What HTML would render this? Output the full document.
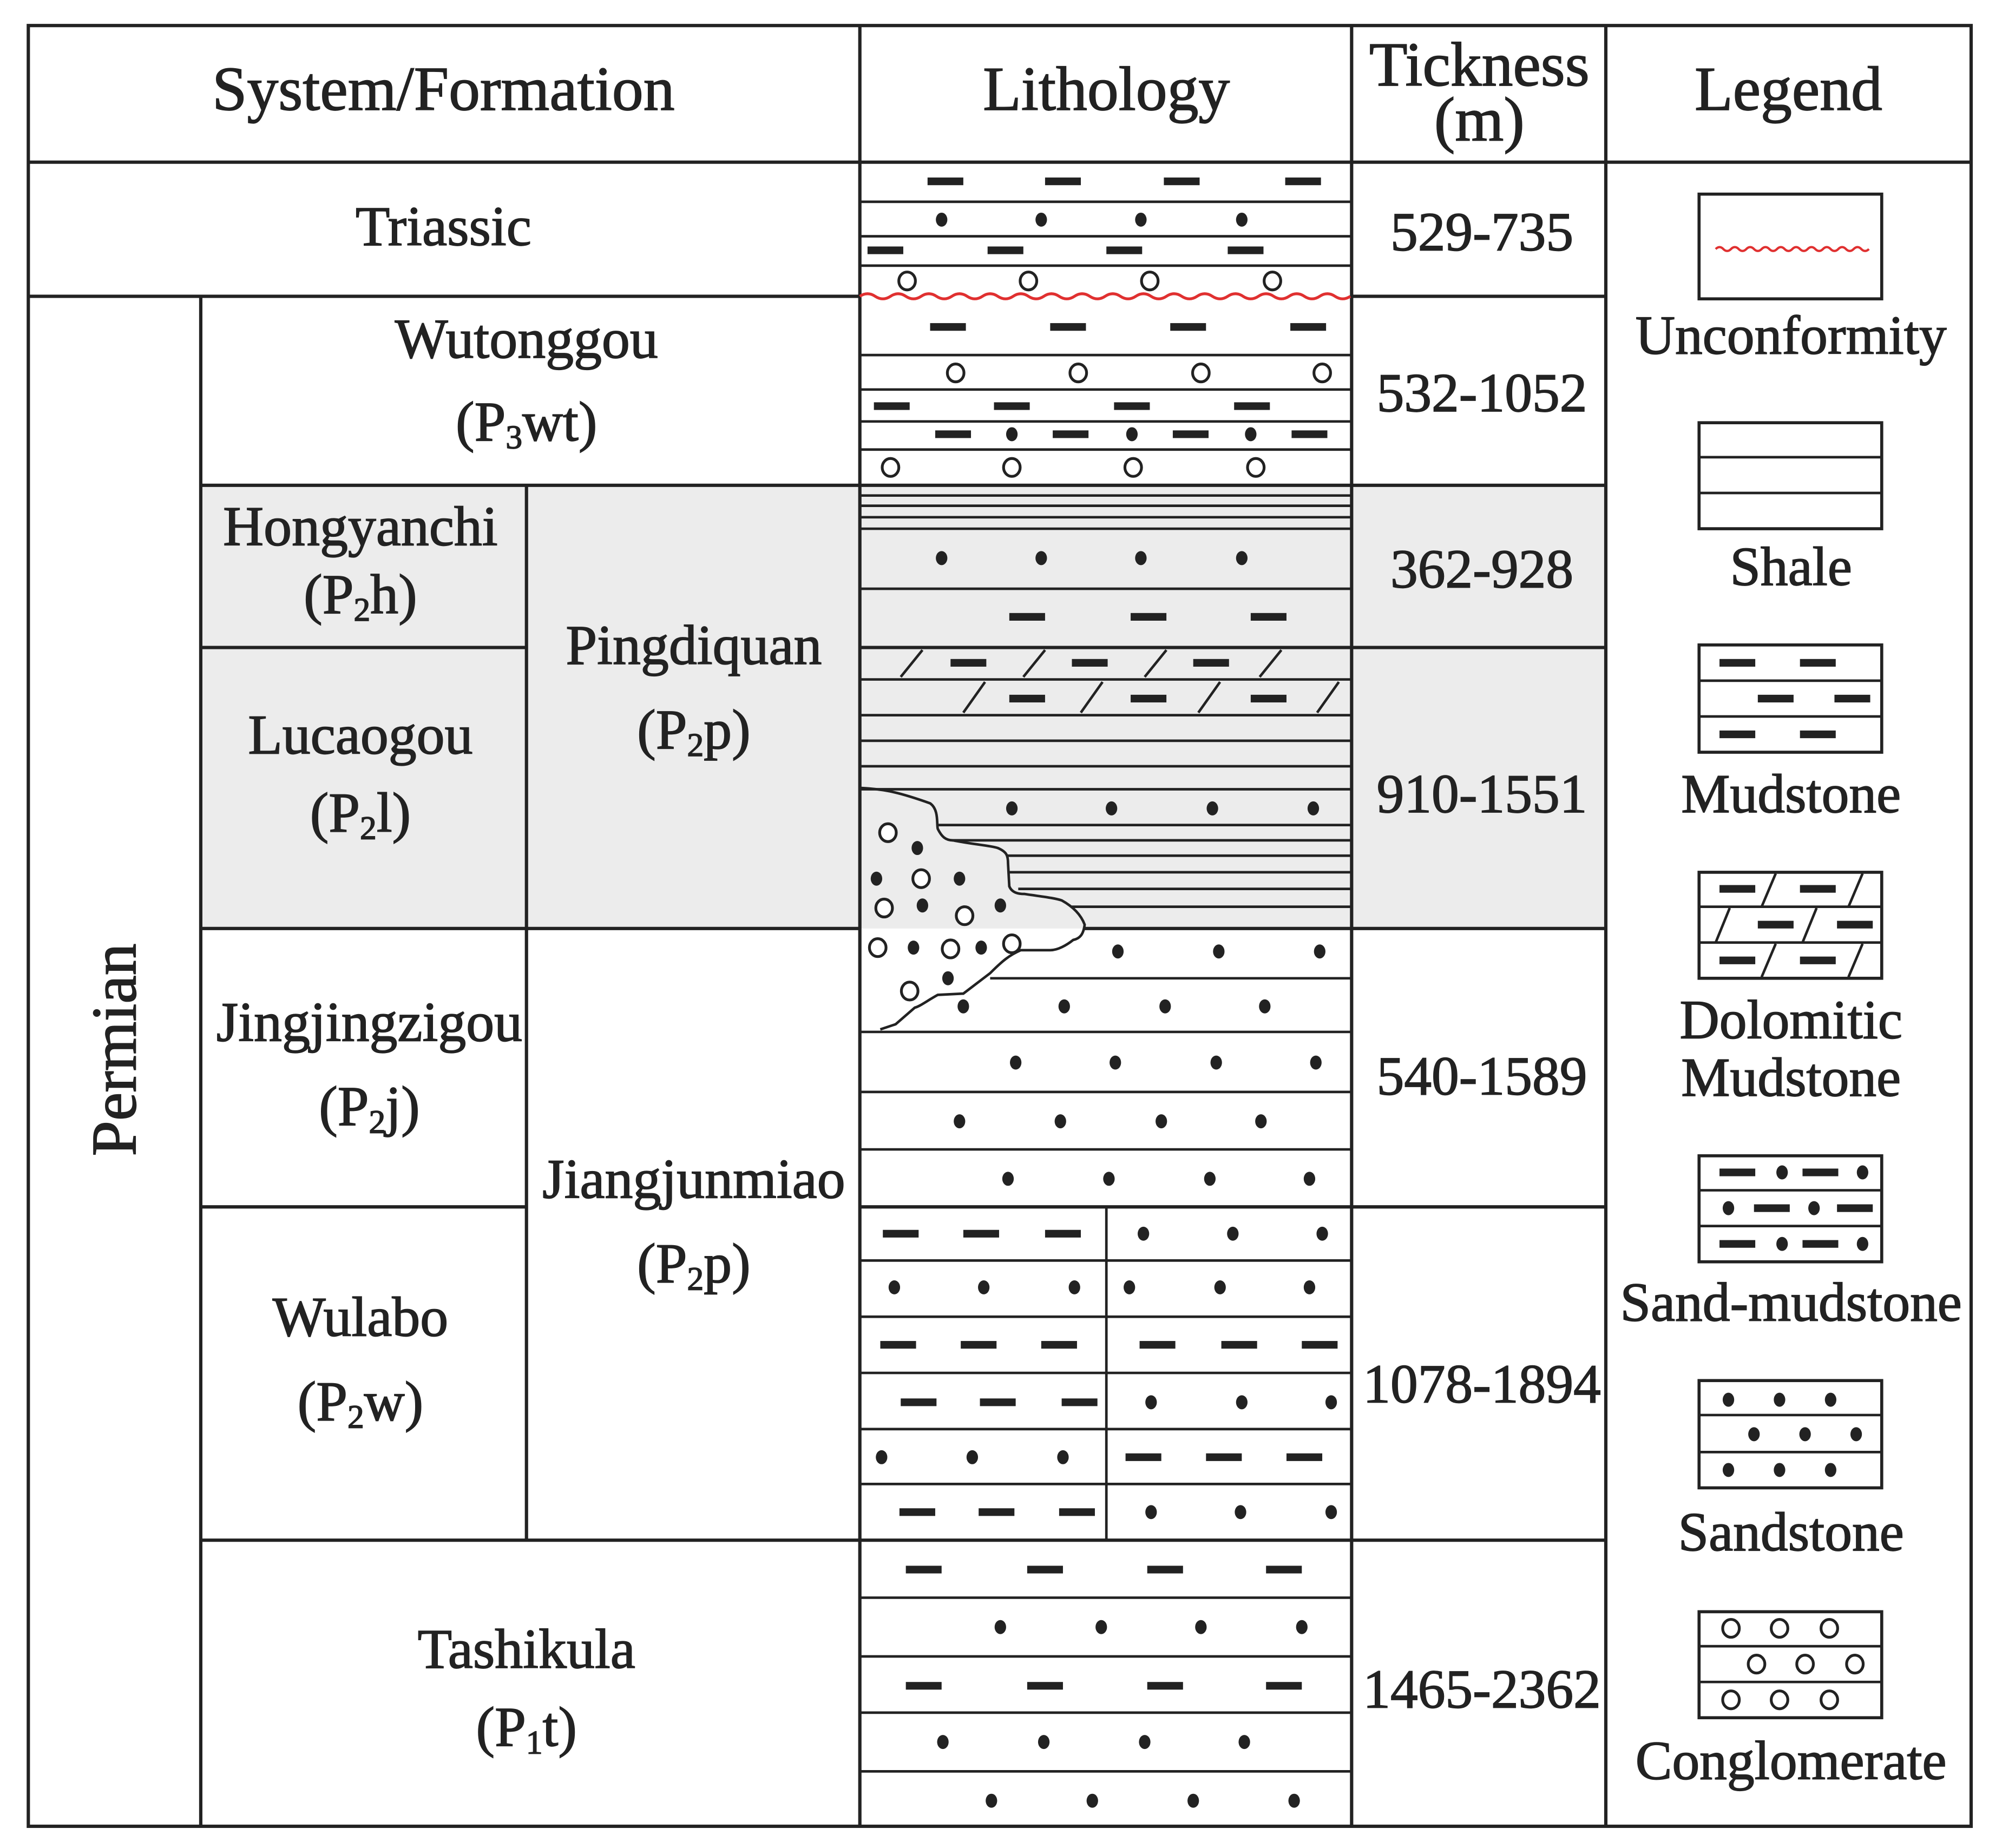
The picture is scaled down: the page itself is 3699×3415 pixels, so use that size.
<!DOCTYPE html>
<html><head><meta charset="utf-8"><style>
html,body{margin:0;padding:0;background:#fff}
svg{display:block}
text{font-family:"Liberation Serif",serif;fill:#222;stroke:#222;stroke-width:0.7}
</style></head><body>
<svg width="3699" height="3415" viewBox="0 0 1567 1447" xmlns="http://www.w3.org/2000/svg">
<defs>
<rect id="d" x="-14" y="-3" width="28" height="6" fill="#222"/>
<ellipse id="o" cx="0" cy="0" rx="4.5" ry="5.5" fill="#222"/>
<ellipse id="c" cx="0" cy="0" rx="6.5" ry="7" fill="#fff" stroke="#222" stroke-width="2.2"/>
</defs>
<rect x="0" y="0" width="1567" height="1447" fill="#fff"/>
<rect x="157" y="380" width="1100" height="347" fill="#ececec"/>

<g stroke="#222" stroke-width="2" fill="none">
<line x1="673" y1="158" x2="1058" y2="158"/><line x1="673" y1="185" x2="1058" y2="185"/><line x1="673" y1="208" x2="1058" y2="208"/>
<line x1="673" y1="278" x2="1058" y2="278"/><line x1="673" y1="305" x2="1058" y2="305"/><line x1="673" y1="330" x2="1058" y2="330"/><line x1="673" y1="352" x2="1058" y2="352"/>
<line x1="673" y1="388" x2="1058" y2="388"/><line x1="673" y1="396" x2="1058" y2="396"/><line x1="673" y1="405" x2="1058" y2="405"/><line x1="673" y1="414" x2="1058" y2="414"/><line x1="673" y1="461" x2="1058" y2="461"/>
<line x1="673" y1="532" x2="1058" y2="532"/><line x1="673" y1="560" x2="1058" y2="560"/><line x1="673" y1="580" x2="1058" y2="580"/><line x1="673" y1="600" x2="1058" y2="600"/><line x1="673" y1="618" x2="1058" y2="618"/>
<line x1="705" y1="530" x2="722" y2="509"/><line x1="801" y1="530" x2="818" y2="509"/><line x1="896" y1="530" x2="913" y2="509"/><line x1="986" y1="530" x2="1003" y2="509"/>
<line x1="754" y1="558" x2="771" y2="534"/><line x1="846" y1="558" x2="863" y2="534"/><line x1="938" y1="558" x2="955" y2="534"/><line x1="1031" y1="558" x2="1048" y2="534"/>
<line x1="734" y1="646" x2="1058" y2="646"/><line x1="745" y1="658" x2="1058" y2="658"/><line x1="788" y1="670" x2="1058" y2="670"/><line x1="790" y1="683" x2="1058" y2="683"/><line x1="797" y1="696" x2="1058" y2="696"/><line x1="838" y1="710" x2="1058" y2="710"/>
<line x1="775" y1="766" x2="1058" y2="766"/><line x1="673" y1="808" x2="1058" y2="808"/><line x1="673" y1="855" x2="1058" y2="855"/><line x1="673" y1="900" x2="1058" y2="900"/>
<line x1="866" y1="945" x2="866" y2="1206"/>
<line x1="673" y1="987" x2="1058" y2="987"/><line x1="673" y1="1031" x2="1058" y2="1031"/><line x1="673" y1="1075" x2="1058" y2="1075"/><line x1="673" y1="1119" x2="1058" y2="1119"/><line x1="673" y1="1162" x2="1058" y2="1162"/>
<line x1="673" y1="1251" x2="1058" y2="1251"/><line x1="673" y1="1297" x2="1058" y2="1297"/><line x1="673" y1="1341" x2="1058" y2="1341"/><line x1="673" y1="1387" x2="1058" y2="1387"/>
<path d="M674,617 C690,618 700,619 728,629 C735,634 733,645 734,649 C737,655 740,658 746,658 C760,661 775,662 781,664 C788,667 789,670 789,676 L790,694 C792,699 797,700 802,700 C815,702 825,703 831,705 C840,710 846,716 849,724 C848,732 845,735 840,736 C835,740 828,744 822,744 L799,744 C790,748 785,752 775,762 L754,778 L734,779 C725,784 720,788 716,789 L701,802 L689,806"/>
</g>

<g stroke="#222" stroke-width="2.6" fill="none">
<rect x="22" y="20" width="1521" height="1410"/>
<line x1="22" y1="127" x2="1543" y2="127"/>
<line x1="673" y1="20" x2="673" y2="1430"/><line x1="1058" y1="20" x2="1058" y2="1430"/><line x1="1257" y1="20" x2="1257" y2="1430"/>
<line x1="22" y1="232" x2="673" y2="232"/><line x1="1058" y1="232" x2="1257" y2="232"/>
<line x1="157" y1="232" x2="157" y2="1430"/>
<line x1="157" y1="380" x2="1257" y2="380"/>
<line x1="412" y1="380" x2="412" y2="1206"/>
<line x1="157" y1="507" x2="412" y2="507"/><line x1="673" y1="507" x2="1257" y2="507"/>
<line x1="157" y1="727" x2="673" y2="727"/><line x1="848" y1="727" x2="1257" y2="727"/>
<line x1="157" y1="945" x2="412" y2="945"/><line x1="673" y1="945" x2="1257" y2="945"/>
<line x1="157" y1="1206" x2="1257" y2="1206"/>
</g>
<path d="M673,232 q6,-4 12,0 t12,0 t12,0 t12,0 t12,0 t12,0 t12,0 t12,0 t12,0 t12,0 t12,0 t12,0 t12,0 t12,0 t12,0 t12,0 t12,0 t12,0 t12,0 t12,0 t12,0 t12,0 t12,0 t12,0 t12,0 t12,0 t12,0 t12,0 t12,0 t12,0 t12,0 t12,0" stroke="#e03030" stroke-width="2.2" fill="none"/>

<g>
<use href="#d" x="740" y="142"/><use href="#d" x="832" y="142"/><use href="#d" x="925" y="142"/><use href="#d" x="1020" y="142"/>
<use href="#o" x="737" y="172"/><use href="#o" x="815" y="172"/><use href="#o" x="893" y="172"/><use href="#o" x="972" y="172"/>
<use href="#d" x="693" y="196"/><use href="#d" x="787" y="196"/><use href="#d" x="880" y="196"/><use href="#d" x="975" y="196"/>
<use href="#c" x="710" y="220"/><use href="#c" x="805" y="220"/><use href="#c" x="900" y="220"/><use href="#c" x="996" y="220"/>
<use href="#d" x="742" y="256"/><use href="#d" x="836" y="256"/><use href="#d" x="930" y="256"/><use href="#d" x="1024" y="256"/>
<use href="#c" x="748" y="292"/><use href="#c" x="844" y="292"/><use href="#c" x="940" y="292"/><use href="#c" x="1035" y="292"/>
<use href="#d" x="698" y="318"/><use href="#d" x="792" y="318"/><use href="#d" x="886" y="318"/><use href="#d" x="980" y="318"/>
<use href="#d" x="746" y="340"/><use href="#o" x="792" y="340"/><use href="#d" x="838" y="340"/><use href="#o" x="886" y="340"/><use href="#d" x="932" y="340"/><use href="#o" x="979" y="340"/><use href="#d" x="1025" y="340"/>
<use href="#c" x="697" y="366"/><use href="#c" x="792" y="366"/><use href="#c" x="887" y="366"/><use href="#c" x="983" y="366"/>
<use href="#o" x="737" y="437"/><use href="#o" x="815" y="437"/><use href="#o" x="893" y="437"/><use href="#o" x="972" y="437"/>
<use href="#d" x="804" y="483"/><use href="#d" x="899" y="483"/><use href="#d" x="993" y="483"/>
<use href="#d" x="758" y="519"/><use href="#d" x="853" y="519"/><use href="#d" x="948" y="519"/>
<use href="#d" x="804" y="547"/><use href="#d" x="899" y="547"/><use href="#d" x="993" y="547"/>
<use href="#o" x="792" y="633"/><use href="#o" x="870" y="633"/><use href="#o" x="949" y="633"/><use href="#o" x="1028" y="633"/>
<use href="#c" x="695" y="652"/><use href="#c" x="721" y="688"/><use href="#c" x="692" y="711"/><use href="#c" x="755" y="717"/><use href="#c" x="687" y="742"/><use href="#c" x="744" y="743"/><use href="#c" x="792" y="739"/><use href="#c" x="712" y="776"/>
<use href="#o" x="718" y="664"/><use href="#o" x="686" y="688"/><use href="#o" x="751" y="688"/><use href="#o" x="722" y="709"/><use href="#o" x="783" y="709"/><use href="#o" x="715" y="742"/><use href="#o" x="768" y="742"/><use href="#o" x="742" y="766"/><use href="#o" x="754" y="788"/>
<use href="#o" x="875" y="745"/><use href="#o" x="954" y="745"/><use href="#o" x="1033" y="745"/>
<use href="#o" x="833" y="788"/><use href="#o" x="912" y="788"/><use href="#o" x="990" y="788"/>
<use href="#o" x="795" y="832"/><use href="#o" x="873" y="832"/><use href="#o" x="952" y="832"/><use href="#o" x="1030" y="832"/>
<use href="#o" x="751" y="878"/><use href="#o" x="830" y="878"/><use href="#o" x="909" y="878"/><use href="#o" x="987" y="878"/>
<use href="#o" x="789" y="923"/><use href="#o" x="868" y="923"/><use href="#o" x="947" y="923"/><use href="#o" x="1025" y="923"/>
<use href="#d" x="705" y="966"/><use href="#d" x="768" y="966"/><use href="#d" x="832" y="966"/>
<use href="#o" x="700" y="1008"/><use href="#o" x="770" y="1008"/><use href="#o" x="841" y="1008"/>
<use href="#d" x="703" y="1053"/><use href="#d" x="766" y="1053"/><use href="#d" x="829" y="1053"/>
<use href="#d" x="719" y="1098"/><use href="#d" x="781" y="1098"/><use href="#d" x="845" y="1098"/>
<use href="#o" x="690" y="1141"/><use href="#o" x="761" y="1141"/><use href="#o" x="832" y="1141"/>
<use href="#d" x="718" y="1184"/><use href="#d" x="780" y="1184"/><use href="#d" x="843" y="1184"/>
<use href="#o" x="895" y="966"/><use href="#o" x="965" y="966"/><use href="#o" x="1035" y="966"/>
<use href="#o" x="884" y="1008"/><use href="#o" x="955" y="1008"/><use href="#o" x="1025" y="1008"/>
<use href="#d" x="906" y="1053"/><use href="#d" x="970" y="1053"/><use href="#d" x="1033" y="1053"/>
<use href="#o" x="901" y="1098"/><use href="#o" x="972" y="1098"/><use href="#o" x="1042" y="1098"/>
<use href="#d" x="895" y="1141"/><use href="#d" x="958" y="1141"/><use href="#d" x="1021" y="1141"/>
<use href="#o" x="901" y="1184"/><use href="#o" x="971" y="1184"/><use href="#o" x="1042" y="1184"/>
<use href="#d" x="723" y="1229"/><use href="#d" x="818" y="1229"/><use href="#d" x="912" y="1229"/><use href="#d" x="1005" y="1229"/>
<use href="#o" x="783" y="1274"/><use href="#o" x="862" y="1274"/><use href="#o" x="940" y="1274"/><use href="#o" x="1019" y="1274"/>
<use href="#d" x="723" y="1320"/><use href="#d" x="818" y="1320"/><use href="#d" x="912" y="1320"/><use href="#d" x="1005" y="1320"/>
<use href="#o" x="738" y="1364"/><use href="#o" x="817" y="1364"/><use href="#o" x="896" y="1364"/><use href="#o" x="974" y="1364"/>
<use href="#o" x="776" y="1410"/><use href="#o" x="855" y="1410"/><use href="#o" x="934" y="1410"/><use href="#o" x="1013" y="1410"/>
</g>

<g stroke="#222" stroke-width="2.4" fill="#fff">
<rect x="1330" y="152" width="143" height="82"/>
<rect x="1330" y="331" width="143" height="83"/>
<rect x="1330" y="505" width="143" height="84"/>
<rect x="1330" y="683" width="143" height="83"/>
<rect x="1330" y="905" width="143" height="83"/>
<rect x="1330" y="1081" width="143" height="84"/>
<rect x="1330" y="1262" width="143" height="83"/>
</g>
<g stroke="#222" stroke-width="2">
<line x1="1330" y1="358" x2="1473" y2="358"/><line x1="1330" y1="386" x2="1473" y2="386"/>
<line x1="1330" y1="533" x2="1473" y2="533"/><line x1="1330" y1="561" x2="1473" y2="561"/>
<line x1="1330" y1="710" x2="1473" y2="710"/><line x1="1330" y1="738" x2="1473" y2="738"/>
<line x1="1379" y1="710" x2="1390" y2="684"/><line x1="1447" y1="710" x2="1458" y2="684"/>
<line x1="1343" y1="738" x2="1354" y2="711"/><line x1="1411" y1="738" x2="1422" y2="711"/>
<line x1="1379" y1="765" x2="1390" y2="739"/><line x1="1447" y1="765" x2="1458" y2="739"/>
<line x1="1330" y1="932" x2="1473" y2="932"/><line x1="1330" y1="960" x2="1473" y2="960"/>
<line x1="1330" y1="1108" x2="1473" y2="1108"/><line x1="1330" y1="1137" x2="1473" y2="1137"/>
<line x1="1330" y1="1289" x2="1473" y2="1289"/><line x1="1330" y1="1317" x2="1473" y2="1317"/>
</g>
<path d="M1343,195 q3,-3 6,0 t6,0 t6,0 t6,0 t6,0 t6,0 t6,0 t6,0 t6,0 t6,0 t6,0 t6,0 t6,0 t6,0 t6,0 t6,0 t6,0 t6,0 t6,0 t6,0" stroke="#e03030" stroke-width="1.8" fill="none"/>
<g>
<use href="#d" x="1360" y="519"/><use href="#d" x="1423" y="519"/>
<use href="#d" x="1390" y="547"/><use href="#d" x="1450" y="547"/>
<use href="#d" x="1360" y="575"/><use href="#d" x="1423" y="575"/>
<use href="#d" x="1360" y="696"/><use href="#d" x="1423" y="696"/>
<use href="#d" x="1390" y="724"/><use href="#d" x="1452" y="724"/>
<use href="#d" x="1360" y="752"/><use href="#d" x="1423" y="752"/>
<use href="#d" x="1360" y="918"/><use href="#o" x="1395" y="918"/><use href="#d" x="1425" y="918"/><use href="#o" x="1458" y="918"/>
<use href="#o" x="1353" y="946"/><use href="#d" x="1387" y="946"/><use href="#o" x="1420" y="946"/><use href="#d" x="1452" y="946"/>
<use href="#d" x="1360" y="974"/><use href="#o" x="1395" y="974"/><use href="#d" x="1425" y="974"/><use href="#o" x="1458" y="974"/>
<use href="#o" x="1353" y="1096"/><use href="#o" x="1393" y="1096"/><use href="#o" x="1433" y="1096"/>
<use href="#o" x="1373" y="1123"/><use href="#o" x="1413" y="1123"/><use href="#o" x="1453" y="1123"/>
<use href="#o" x="1353" y="1151"/><use href="#o" x="1393" y="1151"/><use href="#o" x="1433" y="1151"/>
<use href="#c" x="1355" y="1275"/><use href="#c" x="1393" y="1275"/><use href="#c" x="1432" y="1275"/>
<use href="#c" x="1375" y="1303"/><use href="#c" x="1413" y="1303"/><use href="#c" x="1452" y="1303"/>
<use href="#c" x="1355" y="1331"/><use href="#c" x="1393" y="1331"/><use href="#c" x="1432" y="1331"/>
</g>

<g font-size="49" text-anchor="middle">
<text x="347" y="86">System/Formation</text>
<text x="866" y="86">Lithology</text>
<text x="1158" y="67">Tickness</text>
<text x="1158" y="110">(m)</text>
<text x="1400" y="86">Legend</text>
</g>
<g font-size="44" text-anchor="middle">
<text x="347" y="192">Triassic</text>
<text x="412" y="280">Wutonggou</text>
<text x="412" y="345">(P<tspan font-size="26" dy="6">3</tspan><tspan dy="-6">wt)</tspan></text>
<text x="282" y="427">Hongyanchi</text>
<text x="282" y="480">(P<tspan font-size="26" dy="6">2</tspan><tspan dy="-6">h)</tspan></text>
<text x="543" y="520">Pingdiquan</text>
<text x="543" y="586">(P<tspan font-size="26" dy="6">2</tspan><tspan dy="-6">p)</tspan></text>
<text x="282" y="590">Lucaogou</text>
<text x="282" y="651">(P<tspan font-size="26" dy="6">2</tspan><tspan dy="-6">l)</tspan></text>
<text x="289" y="815">Jingjingzigou</text>
<text x="289" y="881">(P<tspan font-size="26" dy="6">2</tspan><tspan dy="-6">j)</tspan></text>
<text x="543" y="938">Jiangjunmiao</text>
<text x="543" y="1004">(P<tspan font-size="26" dy="6">2</tspan><tspan dy="-6">p)</tspan></text>
<text x="282" y="1046">Wulabo</text>
<text x="282" y="1112">(P<tspan font-size="26" dy="6">2</tspan><tspan dy="-6">w)</tspan></text>
<text x="412" y="1306">Tashikula</text>
<text x="412" y="1367">(P<tspan font-size="26" dy="6">1</tspan><tspan dy="-6">t)</tspan></text>
<text font-size="50" transform="translate(106,822) rotate(-90)">Permian</text>
</g>
<g font-size="43" text-anchor="middle">
<text x="1160" y="196">529-735</text>
<text x="1160" y="322">532-1052</text>
<text x="1160" y="460">362-928</text>
<text x="1160" y="636">910-1551</text>
<text x="1160" y="857">540-1589</text>
<text x="1160" y="1098">1078-1894</text>
<text x="1160" y="1337">1465-2362</text>
</g>
<g font-size="43" text-anchor="middle">
<text x="1402" y="277">Unconformity</text>
<text x="1402" y="458">Shale</text>
<text x="1402" y="636">Mudstone</text>
<text x="1402" y="813">Dolomitic</text>
<text x="1402" y="858">Mudstone</text>
<text x="1402" y="1034">Sand-mudstone</text>
<text x="1402" y="1214">Sandstone</text>
<text x="1402" y="1393">Conglomerate</text>
</g>
</svg>
</body></html>
